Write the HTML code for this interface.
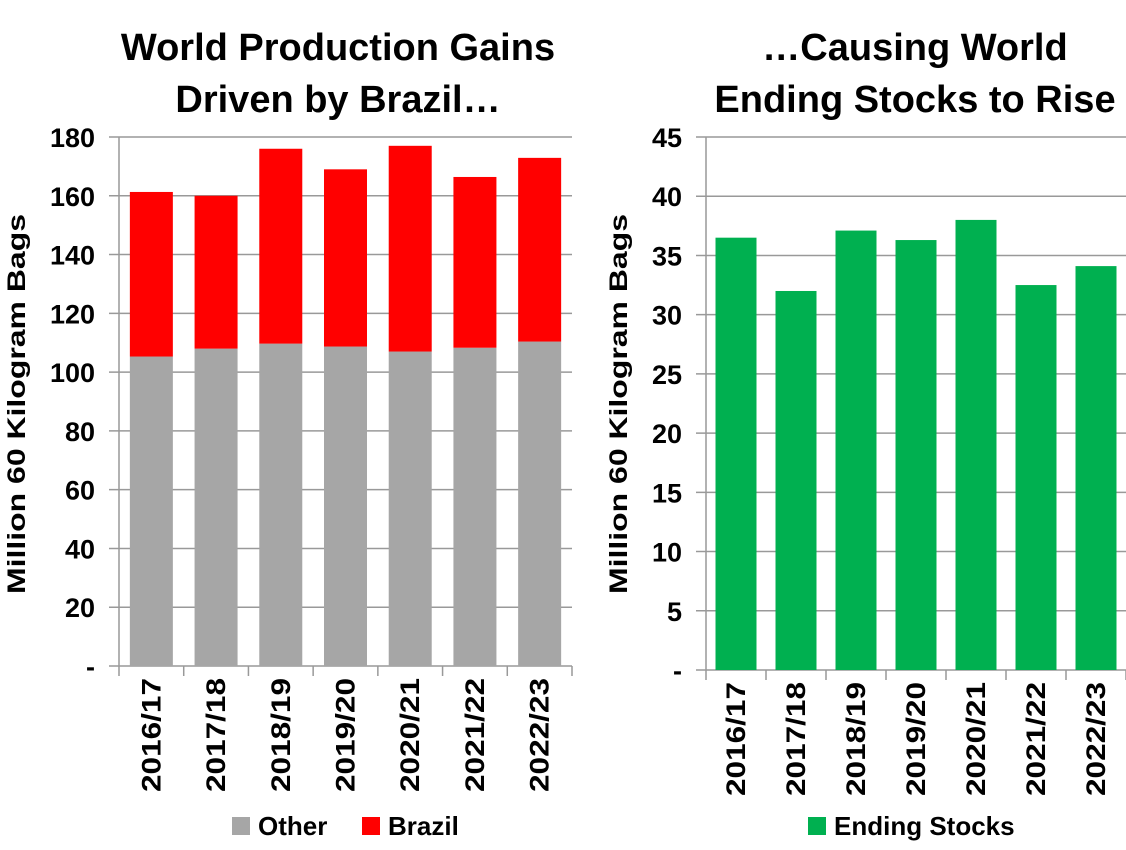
<!DOCTYPE html>
<html><head><meta charset="utf-8"><style>
body{margin:0;background:#fff;}
svg{display:block;font-family:"Liberation Sans",Arial,sans-serif;font-weight:bold;}
</style></head><body>
<svg id="c" width="1126" height="850"></svg>
<script>
const categories=["2016/17","2017/18","2018/19","2019/20","2020/21","2021/22","2022/23"];
const otherVals=[105.3,108,109.7,108.7,107,108.3,110.4];
const brazilVals=[56,52,66.3,60.3,70,58.1,62.5];
const stocksVals=[36.5,32.0,37.1,36.3,38.0,32.5,34.1];
const leftTicks=[0,20,40,60,80,100,120,140,160,180];
const rightTicks=[0,5,10,15,20,25,30,35,40,45];
const NS="http://www.w3.org/2000/svg";
const svg=document.getElementById('c');
function mk(tag,attrs,parent,text){const e=document.createElementNS(NS,tag);for(const k in attrs)e.setAttribute(k,attrs[k]);if(text!==undefined)e.textContent=text;(parent||svg).appendChild(e);return e;}
function chart(o){
  const g=mk('g',{});
  
  
  const y=v=>o.y0-(v-0)/o.max*(o.y0-o.y1);
  const cw=(o.x1-o.x0)/categories.length;
  o.ticks.forEach(t=>{
    const ln=mk('line',{x1:o.x0-10,x2:o.gridEnd,y1:y(t),y2:y(t),stroke:'#999','stroke-width':1.5},g);
    
    
    const tx=mk('text',{x:o.x0-24,y:y(t)+10,'text-anchor':'end','font-size':27},g,t===0?'-':String(t));
    
    
  });
  categories.forEach((c,i)=>{
    const cx=o.x0+cw*(i+0.5);
    let base=0;
    o.series.forEach(s=>{
      const v=s.vals[i];
      const r=mk('rect',{x:cx-o.bw/2,y:y(base+v),width:o.bw,height:y(base)-y(base+v),fill:s.color},g);
      
      
      base+=v;
    });
    const tk=mk('line',{x1:o.x0+cw*i,x2:o.x0+cw*i,y1:o.y0,y2:o.y0+10,stroke:'#999','stroke-width':1.5},g);
    
    
    const lb=mk('text',{transform:`translate(${cx+9},${o.y0+12}) rotate(-90)`,'text-anchor':'end','font-size':27,textLength:114,lengthAdjust:'spacingAndGlyphs'},g,c);
    
    
  });
  const tk=mk('line',{x1:o.x1,x2:o.x1,y1:o.y0,y2:o.y0+10,stroke:'#999','stroke-width':1.5},g);
  
  
  const ax=mk('line',{x1:o.x0,x2:o.x0,y1:o.y1,y2:o.y0,stroke:'#999','stroke-width':1.5},g);
  
  
  const yt=mk('text',{transform:`translate(${o.ytx},404) rotate(-90)`,'text-anchor':'middle','font-size':25,textLength:380,lengthAdjust:'spacingAndGlyphs'},g,'Million 60 Kilogram Bags');
  
  
  o.title.forEach((t,i)=>{
    const tt=mk('text',{x:o.tcx,y:60+i*52,'text-anchor':'middle','font-size':38},g,t);
    
    
  });
  o.legend.forEach(l=>{
    const r=mk('rect',{x:l.x,y:817,width:18,height:18,fill:l.color},g);
    
    
    const t=mk('text',{x:l.x+26,y:835,'font-size':26},g,l.label);
    
    
  });
}
chart({name:'production-chart',x0:119,x1:572,gridEnd:572,y0:666,y1:137,max:180,bw:43,ticks:leftTicks,ytx:25,tcx:338,
  title:['World Production Gains','Driven by Brazil…'],
  series:[{key:'other',vals:otherVals,color:'#a6a6a6'},{key:'brazil',vals:brazilVals,color:'#ff0000'}],
  legend:[{x:232,color:'#a6a6a6',label:'Other'},{x:362,color:'#ff0000',label:'Brazil'}]});
chart({name:'ending-stocks-chart',x0:706,x1:1126,gridEnd:1126,y0:670,y1:137,max:45,bw:41,ticks:rightTicks,ytx:627,tcx:915,
  title:['…Causing World','Ending Stocks to Rise'],
  series:[{key:'stocks',vals:stocksVals,color:'#00b050'}],
  legend:[{x:808,color:'#00b050',label:'Ending Stocks'}]});
</script>
</body></html>
